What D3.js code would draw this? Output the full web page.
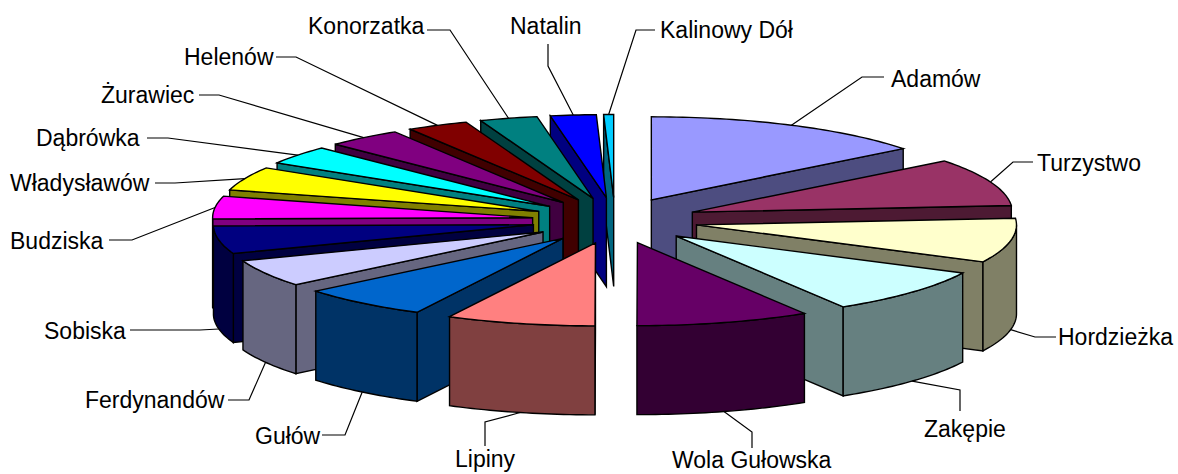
<!DOCTYPE html>
<html>
<head>
<meta charset="utf-8">
<script src="https://cdn.jsdelivr.net/npm/d3@7"></script>
<style>
  html, body { margin: 0; padding: 0; background: #fff; }
  text { font-family: "Liberation Sans", Arial, sans-serif; font-size: 23px; fill: #000; }
</style>
</head>
<body>
<div id="chart"></div>
<script>
const villages = ['Adamów', 'Turzystwo', 'Hordzieżka', 'Zakępie', 'Wola Gułowska', 'Lipiny', 'Gułów', 'Ferdynandów',
  'Sobiska', 'Budziska', 'Władysławów', 'Dąbrówka', 'Żurawiec', 'Helenów', 'Konorzatka', 'Natalin', 'Kalinowy Dół'];
const shares = [14.4, 9.3, 8.6, 8.9, 8.75, 7.5, 6.5, 5.3, 5.4, 4.4, 4.6, 3.6, 3.8, 3.1, 2.9, 2.3, 0.5];

const topColors = ['#9999ff', '#993366', '#ffffcc', '#ccffff', '#660066', '#ff8080', '#0066cc', '#ccccff',
  '#000080', '#ff00ff', '#ffff00', '#00ffff', '#800080', '#800000', '#008080', '#0000ff', '#00ccff'];

// label text position, then the elbow of the leader and where the leader leaves the text
const labelX = [891, 1037, 1058, 924, 672, 455, 255, 85, 44, 10, 10, 36, 101, 184, 308, 510, 660];
const labelY = [79, 163, 337, 429, 460, 459, 436, 400, 331, 241, 183, 138, 95, 57, 26, 26, 30];
const elbowX = [862, 1013, 1035, 960, 752, 485, 345, 249, 200, 132, 175, 168, 219, 296, 450, 548, 636];
const elbowY = [77, 162, 337, 390, 432, 422, 435, 400, 330, 240, 183, 138, 95, 57, 30, 66, 30];
const leaderX = [884, 1033, 1056, 960, 752, 485, 322, 228, 130, 109, 155, 147, 199, 276, 427, 548, 655];
const leaderY = [77, 162, 337, 411, 448, 446, 435, 400, 330, 240, 183, 138, 95, 57, 30, 44, 30];

const width = 1178, height = 474;
const cx = 615, cy = 220.5;
const rx = 320, ry = 83;
const explodeX = 83, explodeY = 23;
const depth = 89;

const svg = d3.select('#chart').append('svg')
  .attr('width', width)
  .attr('height', height)
  .style('display', 'block');

const pie = d3.pie().sort(null).value(d => d.value);
const slices = pie(villages.map((name, i) => ({ name: name, value: shares[i], color: topColors[i], index: i })));

slices.forEach(s => {
  s.mid = (s.startAngle + s.endAngle) / 2;
  s.ax = cx + explodeX * Math.sin(s.mid);
  s.ay = cy - explodeY * Math.cos(s.mid);
});

function rim(s, a, dy) {
  return [s.ax + rx * Math.sin(a), s.ay - ry * Math.cos(a) + (dy || 0)];
}

function arcPoints(s, a0, a1, dy) {
  const n = Math.max(2, Math.ceil((a1 - a0) / 0.02));
  return d3.range(n + 1).map(i => rim(s, a0 + (a1 - a0) * i / n, dy));
}

const line = d3.line();
const halfTone = c => {
  const r = d3.rgb(c);
  return d3.rgb(r.r / 2, r.g / 2, r.b / 2).formatHex();
};

// back slices first, so the front ones paint over them
const ordered = slices.slice().sort((a, b) => Math.cos(b.mid) - Math.cos(a.mid));

const g = svg.selectAll('.slice')
  .data(ordered)
  .enter().append('g')
  .attr('class', 'slice')
  .attr('stroke', '#000')
  .attr('stroke-width', 1.4)
  .attr('stroke-linejoin', 'miter');

g.each(function(s) {
  const el = d3.select(this);
  const side = halfTone(s.data.color);

  // radial wall on the start edge faces the viewer on the left half
  if (Math.sin(s.startAngle) < -0.001) {
    el.append('path').attr('fill', side).attr('d', line([
      rim(s, s.startAngle), [s.ax, s.ay], [s.ax, s.ay + depth], rim(s, s.startAngle, depth)
    ]) + 'Z');
  }
  // and the one on the end edge on the right half
  if (Math.sin(s.endAngle) > 0.001) {
    el.append('path').attr('fill', side).attr('d', line([
      rim(s, s.endAngle), [s.ax, s.ay], [s.ax, s.ay + depth], rim(s, s.endAngle, depth)
    ]) + 'Z');
  }
  // outer wall only for the part of the rim on the front
  const a0 = Math.max(s.startAngle, Math.PI / 2);
  const a1 = Math.min(s.endAngle, Math.PI * 1.5);
  if (a1 > a0) {
    el.append('path').attr('fill', side)
      .attr('d', line(arcPoints(s, a0, a1, 0).concat(arcPoints(s, a0, a1, depth).reverse())) + 'Z');
  }
  el.append('path').attr('fill', s.data.color)
    .attr('d', line([[s.ax, s.ay]].concat(arcPoints(s, s.startAngle, s.endAngle, 0))) + 'Z');
});

// leaders start on the rim, on the bottom of the wall for the front slices
svg.selectAll('.leader')
  .data(slices)
  .enter().append('path')
  .attr('class', 'leader')
  .attr('fill', 'none')
  .attr('stroke', '#000')
  .attr('stroke-width', 1.2)
  .attr('d', s => {
    const i = s.data.index;
    const start = rim(s, s.mid, Math.cos(s.mid) < 0 ? depth : 0);
    return line([start, [elbowX[i], elbowY[i]], [leaderX[i], leaderY[i]]]);
  });

svg.selectAll('.label')
  .data(slices)
  .enter().append('text')
  .attr('class', 'label')
  .attr('x', s => labelX[s.data.index])
  .attr('y', s => labelY[s.data.index])
  .attr('dy', '0.35em')
  .text(s => s.data.name);
</script>
</body>
</html>
